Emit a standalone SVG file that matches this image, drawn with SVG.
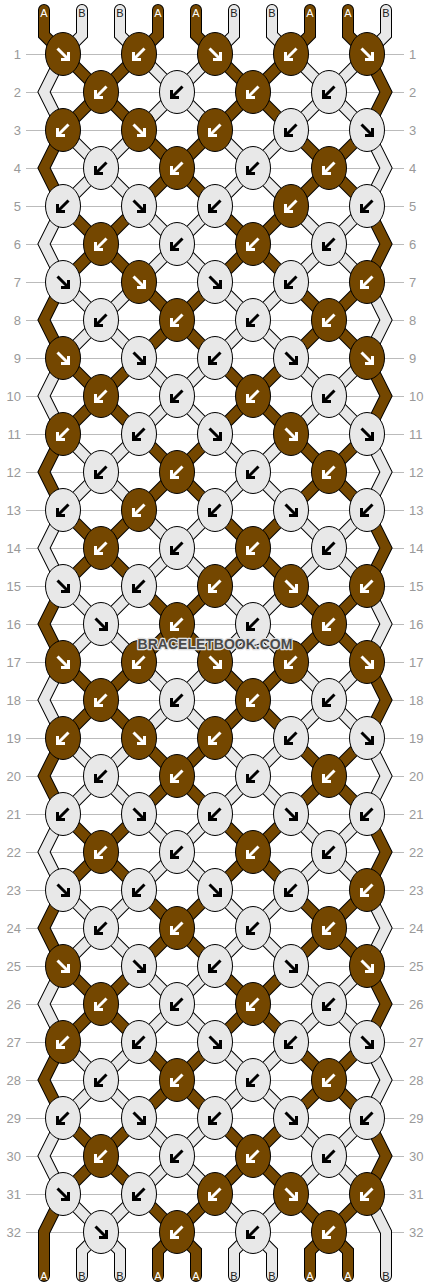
<svg xmlns="http://www.w3.org/2000/svg" xmlns:xlink="http://www.w3.org/1999/xlink" width="430" height="1288" viewBox="0 0 430 1288">
<style>
.kn ellipse{stroke:#000;stroke-width:1}
.b ellipse{fill:#744700}
.l ellipse{fill:#e8e8e8}
.b use{stroke:#fff}
.l use{stroke:#000}
.rn{font-family:"Liberation Sans",Arial,sans-serif;font-size:13px;fill:#999}
.sl{font-family:"Liberation Sans",Arial,sans-serif;font-size:11px;text-anchor:middle}
.sa{fill:#fff}
.sb{fill:#222}
</style>
<defs>
<path id="R" d="M-5.5 -5.5L4.5 4.5M5.5 -2V5.5H-2" fill="none" stroke-width="3"/>
<path id="L" d="M5.5 -5.5L-4.5 4.5M-5.5 -2V5.5H2" fill="none" stroke-width="3"/>
<path id="s0" d="M44 10V35l19 19 38 38 38 38 38 38 38 38 38 38 38 38 38 38 38 38 19 38 -19 38 -38 38 -38 38 -38 38 -38 38 -38 38 -38 38 -38 38 -38 38 -19 38 19 38 38 38 38 38 38 38 38 38 38 38 38 38 38 38 38 38 19 38 -19 38 -38 38 -19 19V1276"/>
<path id="s1" d="M82 10V35l-19 19 -19 38 19 38 38 38 38 38 38 38 38 38 38 38 38 38 38 38 38 38 19 38 -19 38 -38 38 -38 38 -38 38 -38 38 -38 38 -38 38 -38 38 -38 38 -19 38 19 38 38 38 38 38 38 38 38 38 38 38 38 38 38 38 38 38 19 38V1276"/>
<path id="s2" d="M120 10V35l19 19 38 38 38 38 38 38 38 38 38 38 38 38 19 38 -19 38 -38 38 -38 38 -38 38 -38 38 -38 38 -38 38 -38 38 -38 38 -19 38 19 38 38 38 38 38 38 38 38 38 38 38 38 38 38 38 38 38 19 38 -19 38 -38 38 -38 38 -38 38 -19 19V1276"/>
<path id="s3" d="M158 10V35l-19 19 -38 38 -38 38 -19 38 19 38 38 38 38 38 38 38 38 38 38 38 38 38 38 38 38 38 19 38 -19 38 -38 38 -38 38 -38 38 -38 38 -38 38 -38 38 -38 38 -38 38 -19 38 19 38 38 38 38 38 38 38 38 38 38 38 38 38 38 38 19 19V1276"/>
<path id="s4" d="M196 10V35l19 19 38 38 38 38 38 38 38 38 19 38 -19 38 -38 38 -38 38 -38 38 -38 38 -38 38 -38 38 -38 38 -38 38 -19 38 19 38 38 38 38 38 38 38 38 38 38 38 38 38 38 38 38 38 19 38 -19 38 -38 38 -38 38 -38 38 -38 38 -38 38 -19 19V1276"/>
<path id="s5" d="M234 10V35l-19 19 -38 38 -38 38 -38 38 -38 38 -19 38 19 38 38 38 38 38 38 38 38 38 38 38 38 38 38 38 38 38 19 38 -19 38 -38 38 -38 38 -38 38 -38 38 -38 38 -38 38 -38 38 -38 38 -19 38 19 38 38 38 38 38 38 38 38 38 38 38 19 19V1276"/>
<path id="s6" d="M272 10V35l19 19 38 38 38 38 19 38 -19 38 -38 38 -38 38 -38 38 -38 38 -38 38 -38 38 -38 38 -38 38 -19 38 19 38 38 38 38 38 38 38 38 38 38 38 38 38 38 38 38 38 19 38 -19 38 -38 38 -38 38 -38 38 -38 38 -38 38 -38 38 -38 38 -19 19V1276"/>
<path id="s7" d="M310 10V35l-19 19 -38 38 -38 38 -38 38 -38 38 -38 38 -38 38 -19 38 19 38 38 38 38 38 38 38 38 38 38 38 38 38 38 38 38 38 19 38 -19 38 -38 38 -38 38 -38 38 -38 38 -38 38 -38 38 -38 38 -38 38 -19 38 19 38 38 38 38 38 38 38 19 19V1276"/>
<path id="s8" d="M348 10V35l19 19 19 38 -19 38 -38 38 -38 38 -38 38 -38 38 -38 38 -38 38 -38 38 -38 38 -19 38 19 38 38 38 38 38 38 38 38 38 38 38 38 38 38 38 38 38 19 38 -19 38 -38 38 -38 38 -38 38 -38 38 -38 38 -38 38 -38 38 -38 38 -19 38V1276"/>
<path id="s9" d="M386 10V35l-19 19 -38 38 -38 38 -38 38 -38 38 -38 38 -38 38 -38 38 -38 38 -19 38 19 38 38 38 38 38 38 38 38 38 38 38 38 38 38 38 38 38 19 38 -19 38 -38 38 -38 38 -38 38 -38 38 -38 38 -38 38 -38 38 -38 38 -19 38 19 38 38 38 19 19V1276"/>
</defs>
<rect width="430" height="1288" fill="#fff"/>
<g id="grid">
<path d="M26 54.5H404M26 92.5H404M26 130.5H404M26 168.5H404M26 206.5H404M26 244.5H404M26 282.5H404M26 320.5H404M26 358.5H404M26 396.5H404M26 434.5H404M26 472.5H404M26 510.5H404M26 548.5H404M26 586.5H404M26 624.5H404M26 662.5H404M26 700.5H404M26 738.5H404M26 776.5H404M26 814.5H404M26 852.5H404M26 890.5H404M26 928.5H404M26 966.5H404M26 1004.5H404M26 1042.5H404M26 1080.5H404M26 1118.5H404M26 1156.5H404M26 1194.5H404M26 1232.5H404" stroke="#bbb" stroke-width="1"/>
</g>
<g id="row-labels" class="rn">
<text x="21" y="59" text-anchor="end">1</text><text x="409" y="59">1</text>
<text x="21" y="97" text-anchor="end">2</text><text x="409" y="97">2</text>
<text x="21" y="135" text-anchor="end">3</text><text x="409" y="135">3</text>
<text x="21" y="173" text-anchor="end">4</text><text x="409" y="173">4</text>
<text x="21" y="211" text-anchor="end">5</text><text x="409" y="211">5</text>
<text x="21" y="249" text-anchor="end">6</text><text x="409" y="249">6</text>
<text x="21" y="287" text-anchor="end">7</text><text x="409" y="287">7</text>
<text x="21" y="325" text-anchor="end">8</text><text x="409" y="325">8</text>
<text x="21" y="363" text-anchor="end">9</text><text x="409" y="363">9</text>
<text x="21" y="401" text-anchor="end">10</text><text x="409" y="401">10</text>
<text x="21" y="439" text-anchor="end">11</text><text x="409" y="439">11</text>
<text x="21" y="477" text-anchor="end">12</text><text x="409" y="477">12</text>
<text x="21" y="515" text-anchor="end">13</text><text x="409" y="515">13</text>
<text x="21" y="553" text-anchor="end">14</text><text x="409" y="553">14</text>
<text x="21" y="591" text-anchor="end">15</text><text x="409" y="591">15</text>
<text x="21" y="629" text-anchor="end">16</text><text x="409" y="629">16</text>
<text x="21" y="667" text-anchor="end">17</text><text x="409" y="667">17</text>
<text x="21" y="705" text-anchor="end">18</text><text x="409" y="705">18</text>
<text x="21" y="743" text-anchor="end">19</text><text x="409" y="743">19</text>
<text x="21" y="781" text-anchor="end">20</text><text x="409" y="781">20</text>
<text x="21" y="819" text-anchor="end">21</text><text x="409" y="819">21</text>
<text x="21" y="857" text-anchor="end">22</text><text x="409" y="857">22</text>
<text x="21" y="895" text-anchor="end">23</text><text x="409" y="895">23</text>
<text x="21" y="933" text-anchor="end">24</text><text x="409" y="933">24</text>
<text x="21" y="971" text-anchor="end">25</text><text x="409" y="971">25</text>
<text x="21" y="1009" text-anchor="end">26</text><text x="409" y="1009">26</text>
<text x="21" y="1047" text-anchor="end">27</text><text x="409" y="1047">27</text>
<text x="21" y="1085" text-anchor="end">28</text><text x="409" y="1085">28</text>
<text x="21" y="1123" text-anchor="end">29</text><text x="409" y="1123">29</text>
<text x="21" y="1161" text-anchor="end">30</text><text x="409" y="1161">30</text>
<text x="21" y="1199" text-anchor="end">31</text><text x="409" y="1199">31</text>
<text x="21" y="1237" text-anchor="end">32</text><text x="409" y="1237">32</text>
</g>
<g id="connectors" fill="none" stroke-linejoin="miter" stroke-linecap="round">
<g stroke="#000" stroke-width="12">
<use href="#s0"/><use href="#s1"/><use href="#s2"/><use href="#s3"/><use href="#s4"/><use href="#s5"/><use href="#s6"/><use href="#s7"/><use href="#s8"/><use href="#s9"/>
</g>
<g stroke-width="10">
<use href="#s0" stroke="#744700"/><use href="#s1" stroke="#e8e8e8"/><use href="#s2" stroke="#e8e8e8"/><use href="#s3" stroke="#744700"/><use href="#s4" stroke="#744700"/><use href="#s5" stroke="#e8e8e8"/><use href="#s6" stroke="#e8e8e8"/><use href="#s7" stroke="#744700"/><use href="#s8" stroke="#744700"/><use href="#s9" stroke="#e8e8e8"/>
</g>
</g>
<g id="string-labels" class="sl">
<text class="sa" x="44" y="17">A</text><text class="sb" x="82" y="17">B</text><text class="sb" x="120" y="17">B</text><text class="sa" x="158" y="17">A</text><text class="sa" x="196" y="17">A</text><text class="sb" x="234" y="17">B</text><text class="sb" x="272" y="17">B</text><text class="sa" x="310" y="17">A</text><text class="sa" x="348" y="17">A</text><text class="sb" x="386" y="17">B</text>
<text class="sa" x="44" y="1280">A</text><text class="sb" x="82" y="1280">B</text><text class="sb" x="120" y="1280">B</text><text class="sa" x="158" y="1280">A</text><text class="sa" x="196" y="1280">A</text><text class="sb" x="234" y="1280">B</text><text class="sb" x="272" y="1280">B</text><text class="sa" x="310" y="1280">A</text><text class="sa" x="348" y="1280">A</text><text class="sb" x="386" y="1280">B</text>
</g>
<g id="knots">
<g id="k1-1" class="kn b"><ellipse cx="63" cy="54" rx="17.5" ry="21.5"/><use href="#R" x="63" y="54"/></g>
<g id="k1-2" class="kn b"><ellipse cx="139" cy="54" rx="17.5" ry="21.5"/><use href="#L" x="139" y="54"/></g>
<g id="k1-3" class="kn b"><ellipse cx="215" cy="54" rx="17.5" ry="21.5"/><use href="#R" x="215" y="54"/></g>
<g id="k1-4" class="kn b"><ellipse cx="291" cy="54" rx="17.5" ry="21.5"/><use href="#L" x="291" y="54"/></g>
<g id="k1-5" class="kn b"><ellipse cx="367" cy="54" rx="17.5" ry="21.5"/><use href="#R" x="367" y="54"/></g>
<g id="k2-1" class="kn b"><ellipse cx="101" cy="92" rx="17.5" ry="21.5"/><use href="#L" x="101" y="92"/></g>
<g id="k2-2" class="kn l"><ellipse cx="177" cy="92" rx="17.5" ry="21.5"/><use href="#L" x="177" y="92"/></g>
<g id="k2-3" class="kn b"><ellipse cx="253" cy="92" rx="17.5" ry="21.5"/><use href="#L" x="253" y="92"/></g>
<g id="k2-4" class="kn l"><ellipse cx="329" cy="92" rx="17.5" ry="21.5"/><use href="#L" x="329" y="92"/></g>
<g id="k3-1" class="kn b"><ellipse cx="63" cy="130" rx="17.5" ry="21.5"/><use href="#L" x="63" y="130"/></g>
<g id="k3-2" class="kn b"><ellipse cx="139" cy="130" rx="17.5" ry="21.5"/><use href="#R" x="139" y="130"/></g>
<g id="k3-3" class="kn b"><ellipse cx="215" cy="130" rx="17.5" ry="21.5"/><use href="#L" x="215" y="130"/></g>
<g id="k3-4" class="kn l"><ellipse cx="291" cy="130" rx="17.5" ry="21.5"/><use href="#L" x="291" y="130"/></g>
<g id="k3-5" class="kn l"><ellipse cx="367" cy="130" rx="17.5" ry="21.5"/><use href="#R" x="367" y="130"/></g>
<g id="k4-1" class="kn l"><ellipse cx="101" cy="168" rx="17.5" ry="21.5"/><use href="#L" x="101" y="168"/></g>
<g id="k4-2" class="kn b"><ellipse cx="177" cy="168" rx="17.5" ry="21.5"/><use href="#L" x="177" y="168"/></g>
<g id="k4-3" class="kn l"><ellipse cx="253" cy="168" rx="17.5" ry="21.5"/><use href="#L" x="253" y="168"/></g>
<g id="k4-4" class="kn b"><ellipse cx="329" cy="168" rx="17.5" ry="21.5"/><use href="#L" x="329" y="168"/></g>
<g id="k5-1" class="kn l"><ellipse cx="63" cy="206" rx="17.5" ry="21.5"/><use href="#L" x="63" y="206"/></g>
<g id="k5-2" class="kn l"><ellipse cx="139" cy="206" rx="17.5" ry="21.5"/><use href="#R" x="139" y="206"/></g>
<g id="k5-3" class="kn l"><ellipse cx="215" cy="206" rx="17.5" ry="21.5"/><use href="#L" x="215" y="206"/></g>
<g id="k5-4" class="kn b"><ellipse cx="291" cy="206" rx="17.5" ry="21.5"/><use href="#L" x="291" y="206"/></g>
<g id="k5-5" class="kn l"><ellipse cx="367" cy="206" rx="17.5" ry="21.5"/><use href="#L" x="367" y="206"/></g>
<g id="k6-1" class="kn b"><ellipse cx="101" cy="244" rx="17.5" ry="21.5"/><use href="#L" x="101" y="244"/></g>
<g id="k6-2" class="kn l"><ellipse cx="177" cy="244" rx="17.5" ry="21.5"/><use href="#L" x="177" y="244"/></g>
<g id="k6-3" class="kn b"><ellipse cx="253" cy="244" rx="17.5" ry="21.5"/><use href="#L" x="253" y="244"/></g>
<g id="k6-4" class="kn l"><ellipse cx="329" cy="244" rx="17.5" ry="21.5"/><use href="#L" x="329" y="244"/></g>
<g id="k7-1" class="kn l"><ellipse cx="63" cy="282" rx="17.5" ry="21.5"/><use href="#R" x="63" y="282"/></g>
<g id="k7-2" class="kn b"><ellipse cx="139" cy="282" rx="17.5" ry="21.5"/><use href="#R" x="139" y="282"/></g>
<g id="k7-3" class="kn l"><ellipse cx="215" cy="282" rx="17.5" ry="21.5"/><use href="#R" x="215" y="282"/></g>
<g id="k7-4" class="kn l"><ellipse cx="291" cy="282" rx="17.5" ry="21.5"/><use href="#L" x="291" y="282"/></g>
<g id="k7-5" class="kn b"><ellipse cx="367" cy="282" rx="17.5" ry="21.5"/><use href="#L" x="367" y="282"/></g>
<g id="k8-1" class="kn l"><ellipse cx="101" cy="320" rx="17.5" ry="21.5"/><use href="#L" x="101" y="320"/></g>
<g id="k8-2" class="kn b"><ellipse cx="177" cy="320" rx="17.5" ry="21.5"/><use href="#L" x="177" y="320"/></g>
<g id="k8-3" class="kn l"><ellipse cx="253" cy="320" rx="17.5" ry="21.5"/><use href="#L" x="253" y="320"/></g>
<g id="k8-4" class="kn b"><ellipse cx="329" cy="320" rx="17.5" ry="21.5"/><use href="#L" x="329" y="320"/></g>
<g id="k9-1" class="kn b"><ellipse cx="63" cy="358" rx="17.5" ry="21.5"/><use href="#R" x="63" y="358"/></g>
<g id="k9-2" class="kn l"><ellipse cx="139" cy="358" rx="17.5" ry="21.5"/><use href="#R" x="139" y="358"/></g>
<g id="k9-3" class="kn l"><ellipse cx="215" cy="358" rx="17.5" ry="21.5"/><use href="#L" x="215" y="358"/></g>
<g id="k9-4" class="kn l"><ellipse cx="291" cy="358" rx="17.5" ry="21.5"/><use href="#R" x="291" y="358"/></g>
<g id="k9-5" class="kn b"><ellipse cx="367" cy="358" rx="17.5" ry="21.5"/><use href="#R" x="367" y="358"/></g>
<g id="k10-1" class="kn b"><ellipse cx="101" cy="396" rx="17.5" ry="21.5"/><use href="#L" x="101" y="396"/></g>
<g id="k10-2" class="kn l"><ellipse cx="177" cy="396" rx="17.5" ry="21.5"/><use href="#L" x="177" y="396"/></g>
<g id="k10-3" class="kn b"><ellipse cx="253" cy="396" rx="17.5" ry="21.5"/><use href="#L" x="253" y="396"/></g>
<g id="k10-4" class="kn l"><ellipse cx="329" cy="396" rx="17.5" ry="21.5"/><use href="#L" x="329" y="396"/></g>
<g id="k11-1" class="kn b"><ellipse cx="63" cy="434" rx="17.5" ry="21.5"/><use href="#L" x="63" y="434"/></g>
<g id="k11-2" class="kn l"><ellipse cx="139" cy="434" rx="17.5" ry="21.5"/><use href="#L" x="139" y="434"/></g>
<g id="k11-3" class="kn l"><ellipse cx="215" cy="434" rx="17.5" ry="21.5"/><use href="#R" x="215" y="434"/></g>
<g id="k11-4" class="kn b"><ellipse cx="291" cy="434" rx="17.5" ry="21.5"/><use href="#R" x="291" y="434"/></g>
<g id="k11-5" class="kn l"><ellipse cx="367" cy="434" rx="17.5" ry="21.5"/><use href="#R" x="367" y="434"/></g>
<g id="k12-1" class="kn l"><ellipse cx="101" cy="472" rx="17.5" ry="21.5"/><use href="#L" x="101" y="472"/></g>
<g id="k12-2" class="kn b"><ellipse cx="177" cy="472" rx="17.5" ry="21.5"/><use href="#L" x="177" y="472"/></g>
<g id="k12-3" class="kn l"><ellipse cx="253" cy="472" rx="17.5" ry="21.5"/><use href="#L" x="253" y="472"/></g>
<g id="k12-4" class="kn b"><ellipse cx="329" cy="472" rx="17.5" ry="21.5"/><use href="#L" x="329" y="472"/></g>
<g id="k13-1" class="kn l"><ellipse cx="63" cy="510" rx="17.5" ry="21.5"/><use href="#L" x="63" y="510"/></g>
<g id="k13-2" class="kn b"><ellipse cx="139" cy="510" rx="17.5" ry="21.5"/><use href="#L" x="139" y="510"/></g>
<g id="k13-3" class="kn l"><ellipse cx="215" cy="510" rx="17.5" ry="21.5"/><use href="#L" x="215" y="510"/></g>
<g id="k13-4" class="kn l"><ellipse cx="291" cy="510" rx="17.5" ry="21.5"/><use href="#R" x="291" y="510"/></g>
<g id="k13-5" class="kn l"><ellipse cx="367" cy="510" rx="17.5" ry="21.5"/><use href="#L" x="367" y="510"/></g>
<g id="k14-1" class="kn b"><ellipse cx="101" cy="548" rx="17.5" ry="21.5"/><use href="#L" x="101" y="548"/></g>
<g id="k14-2" class="kn l"><ellipse cx="177" cy="548" rx="17.5" ry="21.5"/><use href="#L" x="177" y="548"/></g>
<g id="k14-3" class="kn b"><ellipse cx="253" cy="548" rx="17.5" ry="21.5"/><use href="#L" x="253" y="548"/></g>
<g id="k14-4" class="kn l"><ellipse cx="329" cy="548" rx="17.5" ry="21.5"/><use href="#L" x="329" y="548"/></g>
<g id="k15-1" class="kn l"><ellipse cx="63" cy="586" rx="17.5" ry="21.5"/><use href="#R" x="63" y="586"/></g>
<g id="k15-2" class="kn l"><ellipse cx="139" cy="586" rx="17.5" ry="21.5"/><use href="#L" x="139" y="586"/></g>
<g id="k15-3" class="kn b"><ellipse cx="215" cy="586" rx="17.5" ry="21.5"/><use href="#L" x="215" y="586"/></g>
<g id="k15-4" class="kn b"><ellipse cx="291" cy="586" rx="17.5" ry="21.5"/><use href="#R" x="291" y="586"/></g>
<g id="k15-5" class="kn b"><ellipse cx="367" cy="586" rx="17.5" ry="21.5"/><use href="#L" x="367" y="586"/></g>
<g id="k16-1" class="kn l"><ellipse cx="101" cy="624" rx="17.5" ry="21.5"/><use href="#R" x="101" y="624"/></g>
<g id="k16-2" class="kn b"><ellipse cx="177" cy="624" rx="17.5" ry="21.5"/><use href="#L" x="177" y="624"/></g>
<g id="k16-3" class="kn l"><ellipse cx="253" cy="624" rx="17.5" ry="21.5"/><use href="#L" x="253" y="624"/></g>
<g id="k16-4" class="kn b"><ellipse cx="329" cy="624" rx="17.5" ry="21.5"/><use href="#L" x="329" y="624"/></g>
<g id="k17-1" class="kn b"><ellipse cx="63" cy="662" rx="17.5" ry="21.5"/><use href="#R" x="63" y="662"/></g>
<g id="k17-2" class="kn b"><ellipse cx="139" cy="662" rx="17.5" ry="21.5"/><use href="#L" x="139" y="662"/></g>
<g id="k17-3" class="kn b"><ellipse cx="215" cy="662" rx="17.5" ry="21.5"/><use href="#R" x="215" y="662"/></g>
<g id="k17-4" class="kn b"><ellipse cx="291" cy="662" rx="17.5" ry="21.5"/><use href="#L" x="291" y="662"/></g>
<g id="k17-5" class="kn b"><ellipse cx="367" cy="662" rx="17.5" ry="21.5"/><use href="#R" x="367" y="662"/></g>
<g id="k18-1" class="kn b"><ellipse cx="101" cy="700" rx="17.5" ry="21.5"/><use href="#L" x="101" y="700"/></g>
<g id="k18-2" class="kn l"><ellipse cx="177" cy="700" rx="17.5" ry="21.5"/><use href="#L" x="177" y="700"/></g>
<g id="k18-3" class="kn b"><ellipse cx="253" cy="700" rx="17.5" ry="21.5"/><use href="#L" x="253" y="700"/></g>
<g id="k18-4" class="kn l"><ellipse cx="329" cy="700" rx="17.5" ry="21.5"/><use href="#L" x="329" y="700"/></g>
<g id="k19-1" class="kn b"><ellipse cx="63" cy="738" rx="17.5" ry="21.5"/><use href="#L" x="63" y="738"/></g>
<g id="k19-2" class="kn b"><ellipse cx="139" cy="738" rx="17.5" ry="21.5"/><use href="#R" x="139" y="738"/></g>
<g id="k19-3" class="kn b"><ellipse cx="215" cy="738" rx="17.5" ry="21.5"/><use href="#L" x="215" y="738"/></g>
<g id="k19-4" class="kn l"><ellipse cx="291" cy="738" rx="17.5" ry="21.5"/><use href="#L" x="291" y="738"/></g>
<g id="k19-5" class="kn l"><ellipse cx="367" cy="738" rx="17.5" ry="21.5"/><use href="#R" x="367" y="738"/></g>
<g id="k20-1" class="kn l"><ellipse cx="101" cy="776" rx="17.5" ry="21.5"/><use href="#L" x="101" y="776"/></g>
<g id="k20-2" class="kn b"><ellipse cx="177" cy="776" rx="17.5" ry="21.5"/><use href="#L" x="177" y="776"/></g>
<g id="k20-3" class="kn l"><ellipse cx="253" cy="776" rx="17.5" ry="21.5"/><use href="#L" x="253" y="776"/></g>
<g id="k20-4" class="kn b"><ellipse cx="329" cy="776" rx="17.5" ry="21.5"/><use href="#L" x="329" y="776"/></g>
<g id="k21-1" class="kn l"><ellipse cx="63" cy="814" rx="17.5" ry="21.5"/><use href="#L" x="63" y="814"/></g>
<g id="k21-2" class="kn l"><ellipse cx="139" cy="814" rx="17.5" ry="21.5"/><use href="#R" x="139" y="814"/></g>
<g id="k21-3" class="kn l"><ellipse cx="215" cy="814" rx="17.5" ry="21.5"/><use href="#L" x="215" y="814"/></g>
<g id="k21-4" class="kn l"><ellipse cx="291" cy="814" rx="17.5" ry="21.5"/><use href="#R" x="291" y="814"/></g>
<g id="k21-5" class="kn l"><ellipse cx="367" cy="814" rx="17.5" ry="21.5"/><use href="#L" x="367" y="814"/></g>
<g id="k22-1" class="kn b"><ellipse cx="101" cy="852" rx="17.5" ry="21.5"/><use href="#L" x="101" y="852"/></g>
<g id="k22-2" class="kn l"><ellipse cx="177" cy="852" rx="17.5" ry="21.5"/><use href="#L" x="177" y="852"/></g>
<g id="k22-3" class="kn b"><ellipse cx="253" cy="852" rx="17.5" ry="21.5"/><use href="#L" x="253" y="852"/></g>
<g id="k22-4" class="kn l"><ellipse cx="329" cy="852" rx="17.5" ry="21.5"/><use href="#L" x="329" y="852"/></g>
<g id="k23-1" class="kn l"><ellipse cx="63" cy="890" rx="17.5" ry="21.5"/><use href="#R" x="63" y="890"/></g>
<g id="k23-2" class="kn l"><ellipse cx="139" cy="890" rx="17.5" ry="21.5"/><use href="#L" x="139" y="890"/></g>
<g id="k23-3" class="kn l"><ellipse cx="215" cy="890" rx="17.5" ry="21.5"/><use href="#R" x="215" y="890"/></g>
<g id="k23-4" class="kn l"><ellipse cx="291" cy="890" rx="17.5" ry="21.5"/><use href="#L" x="291" y="890"/></g>
<g id="k23-5" class="kn b"><ellipse cx="367" cy="890" rx="17.5" ry="21.5"/><use href="#L" x="367" y="890"/></g>
<g id="k24-1" class="kn l"><ellipse cx="101" cy="928" rx="17.5" ry="21.5"/><use href="#L" x="101" y="928"/></g>
<g id="k24-2" class="kn b"><ellipse cx="177" cy="928" rx="17.5" ry="21.5"/><use href="#L" x="177" y="928"/></g>
<g id="k24-3" class="kn l"><ellipse cx="253" cy="928" rx="17.5" ry="21.5"/><use href="#L" x="253" y="928"/></g>
<g id="k24-4" class="kn b"><ellipse cx="329" cy="928" rx="17.5" ry="21.5"/><use href="#L" x="329" y="928"/></g>
<g id="k25-1" class="kn b"><ellipse cx="63" cy="966" rx="17.5" ry="21.5"/><use href="#R" x="63" y="966"/></g>
<g id="k25-2" class="kn l"><ellipse cx="139" cy="966" rx="17.5" ry="21.5"/><use href="#R" x="139" y="966"/></g>
<g id="k25-3" class="kn l"><ellipse cx="215" cy="966" rx="17.5" ry="21.5"/><use href="#L" x="215" y="966"/></g>
<g id="k25-4" class="kn l"><ellipse cx="291" cy="966" rx="17.5" ry="21.5"/><use href="#R" x="291" y="966"/></g>
<g id="k25-5" class="kn b"><ellipse cx="367" cy="966" rx="17.5" ry="21.5"/><use href="#R" x="367" y="966"/></g>
<g id="k26-1" class="kn b"><ellipse cx="101" cy="1004" rx="17.5" ry="21.5"/><use href="#L" x="101" y="1004"/></g>
<g id="k26-2" class="kn l"><ellipse cx="177" cy="1004" rx="17.5" ry="21.5"/><use href="#L" x="177" y="1004"/></g>
<g id="k26-3" class="kn b"><ellipse cx="253" cy="1004" rx="17.5" ry="21.5"/><use href="#L" x="253" y="1004"/></g>
<g id="k26-4" class="kn l"><ellipse cx="329" cy="1004" rx="17.5" ry="21.5"/><use href="#L" x="329" y="1004"/></g>
<g id="k27-1" class="kn b"><ellipse cx="63" cy="1042" rx="17.5" ry="21.5"/><use href="#L" x="63" y="1042"/></g>
<g id="k27-2" class="kn l"><ellipse cx="139" cy="1042" rx="17.5" ry="21.5"/><use href="#L" x="139" y="1042"/></g>
<g id="k27-3" class="kn l"><ellipse cx="215" cy="1042" rx="17.5" ry="21.5"/><use href="#R" x="215" y="1042"/></g>
<g id="k27-4" class="kn l"><ellipse cx="291" cy="1042" rx="17.5" ry="21.5"/><use href="#L" x="291" y="1042"/></g>
<g id="k27-5" class="kn l"><ellipse cx="367" cy="1042" rx="17.5" ry="21.5"/><use href="#R" x="367" y="1042"/></g>
<g id="k28-1" class="kn l"><ellipse cx="101" cy="1080" rx="17.5" ry="21.5"/><use href="#L" x="101" y="1080"/></g>
<g id="k28-2" class="kn b"><ellipse cx="177" cy="1080" rx="17.5" ry="21.5"/><use href="#L" x="177" y="1080"/></g>
<g id="k28-3" class="kn l"><ellipse cx="253" cy="1080" rx="17.5" ry="21.5"/><use href="#L" x="253" y="1080"/></g>
<g id="k28-4" class="kn b"><ellipse cx="329" cy="1080" rx="17.5" ry="21.5"/><use href="#L" x="329" y="1080"/></g>
<g id="k29-1" class="kn l"><ellipse cx="63" cy="1118" rx="17.5" ry="21.5"/><use href="#L" x="63" y="1118"/></g>
<g id="k29-2" class="kn l"><ellipse cx="139" cy="1118" rx="17.5" ry="21.5"/><use href="#R" x="139" y="1118"/></g>
<g id="k29-3" class="kn l"><ellipse cx="215" cy="1118" rx="17.5" ry="21.5"/><use href="#L" x="215" y="1118"/></g>
<g id="k29-4" class="kn l"><ellipse cx="291" cy="1118" rx="17.5" ry="21.5"/><use href="#R" x="291" y="1118"/></g>
<g id="k29-5" class="kn l"><ellipse cx="367" cy="1118" rx="17.5" ry="21.5"/><use href="#L" x="367" y="1118"/></g>
<g id="k30-1" class="kn b"><ellipse cx="101" cy="1156" rx="17.5" ry="21.5"/><use href="#L" x="101" y="1156"/></g>
<g id="k30-2" class="kn l"><ellipse cx="177" cy="1156" rx="17.5" ry="21.5"/><use href="#L" x="177" y="1156"/></g>
<g id="k30-3" class="kn b"><ellipse cx="253" cy="1156" rx="17.5" ry="21.5"/><use href="#L" x="253" y="1156"/></g>
<g id="k30-4" class="kn l"><ellipse cx="329" cy="1156" rx="17.5" ry="21.5"/><use href="#L" x="329" y="1156"/></g>
<g id="k31-1" class="kn l"><ellipse cx="63" cy="1194" rx="17.5" ry="21.5"/><use href="#R" x="63" y="1194"/></g>
<g id="k31-2" class="kn l"><ellipse cx="139" cy="1194" rx="17.5" ry="21.5"/><use href="#L" x="139" y="1194"/></g>
<g id="k31-3" class="kn b"><ellipse cx="215" cy="1194" rx="17.5" ry="21.5"/><use href="#L" x="215" y="1194"/></g>
<g id="k31-4" class="kn b"><ellipse cx="291" cy="1194" rx="17.5" ry="21.5"/><use href="#R" x="291" y="1194"/></g>
<g id="k31-5" class="kn b"><ellipse cx="367" cy="1194" rx="17.5" ry="21.5"/><use href="#L" x="367" y="1194"/></g>
<g id="k32-1" class="kn l"><ellipse cx="101" cy="1232" rx="17.5" ry="21.5"/><use href="#R" x="101" y="1232"/></g>
<g id="k32-2" class="kn b"><ellipse cx="177" cy="1232" rx="17.5" ry="21.5"/><use href="#L" x="177" y="1232"/></g>
<g id="k32-3" class="kn l"><ellipse cx="253" cy="1232" rx="17.5" ry="21.5"/><use href="#L" x="253" y="1232"/></g>
<g id="k32-4" class="kn b"><ellipse cx="329" cy="1232" rx="17.5" ry="21.5"/><use href="#L" x="329" y="1232"/></g>
</g>
<text id="watermark" x="215" y="649" text-anchor="middle" font-family="'Liberation Sans',Arial,sans-serif" font-size="14" font-weight="bold" fill="#4a4a4a" stroke="#e0e0e0" stroke-width="2.5" paint-order="stroke" stroke-linejoin="round">BRACELETBOOK.COM</text>
</svg>
